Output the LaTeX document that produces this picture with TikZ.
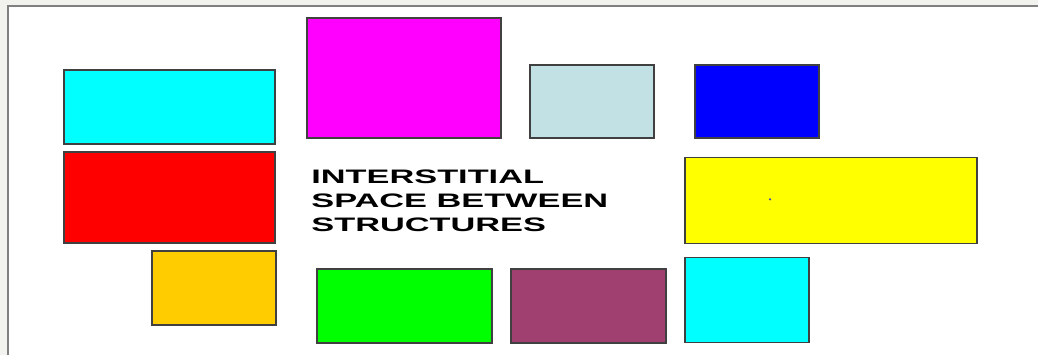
\documentclass[tikz,border=0pt]{standalone}
\usepackage{fontspec}
\usepackage{tikz}
\usetikzlibrary{positioning}
\newfontfamily\gaplabelfont[FakeStretch=1.76]{Liberation Sans}
\definecolor{panelgray}{HTML}{F2F2EE}
\definecolor{rimgray}{HTML}{808080}
\definecolor{cyanbox}{HTML}{00FFFF}
\definecolor{magbox}{HTML}{FF00FF}
\definecolor{paleblue}{HTML}{C2E1E5}
\definecolor{bluebox}{HTML}{0000FF}
\definecolor{redbox}{HTML}{FF0000}
\definecolor{yelbox}{HTML}{FFFF00}
\definecolor{goldbox}{HTML}{FFCC00}
\definecolor{grnbox}{HTML}{00FF00}
\definecolor{plumbox}{HTML}{A04070}
\definecolor{dotblue}{HTML}{4040C0}

\begin{document}
\begin{tikzpicture}[
  x=0.5pt, y=-0.5pt,
  blk/.style={draw=black!75, line width=0.6pt, inner sep=0pt},
  size/.style 2 args={minimum width=#1*0.5pt, minimum height=#2*0.5pt},
  gaptext/.style={inner sep=0pt, align=left,
    font=\gaplabelfont\bfseries\fontsize{9.75pt}{12pt}\selectfont},
]
\useasboundingbox (0,0) rectangle (1038,355);
%% Panel
\fill[panelgray] (0,0) rectangle (1038,355);
\fill[white] (8,6) rectangle (1038,355);
\draw[rimgray, line width=0.6pt] (8,355) -- (8,6) -- (1038,6);

%% Top row
\node[blk, size={211}{74}, fill=cyanbox]   (cyanA)  at (169.5,107)   {};
\node[blk, size={194}{120}, fill=magbox]   (mag)    at (404,78)      {};
\node[blk, size={124}{73}, fill=paleblue]  (pale)   at (592,101.5)   {};
\node[blk, size={124}{73}, fill=bluebox]   (blu)    at (757,101.5)   {};

%% Middle row
\node[blk, size={211}{91}, fill=redbox]    (rd)     at (169.5,197.5) {};
\node[blk, size={292}{86}, fill=yelbox]    (yel)    at (831,200.3)   {};
\fill[dotblue] (770,199.3) circle (1.2);

%% Bottom row
\node[blk, size={124}{74}, fill=goldbox]   (gold)   at (214,288)     {};
\node[blk, size={175}{74}, fill=grnbox]    (grn)    at (404.5,306)   {};
\node[blk, size={155}{74}, fill=plumbox]   (plum)   at (588.5,306)   {};
\node[blk, size={124}{85}, fill=cyanbox]   (cyanB)  at (747,300)     {};

%% Label
\node[gaptext, anchor=north west] (gap) at (311,169)
  {INTERSTITIAL\\SPACE BETWEEN\\STRUCTURES};

\end{tikzpicture}
\end{document}
